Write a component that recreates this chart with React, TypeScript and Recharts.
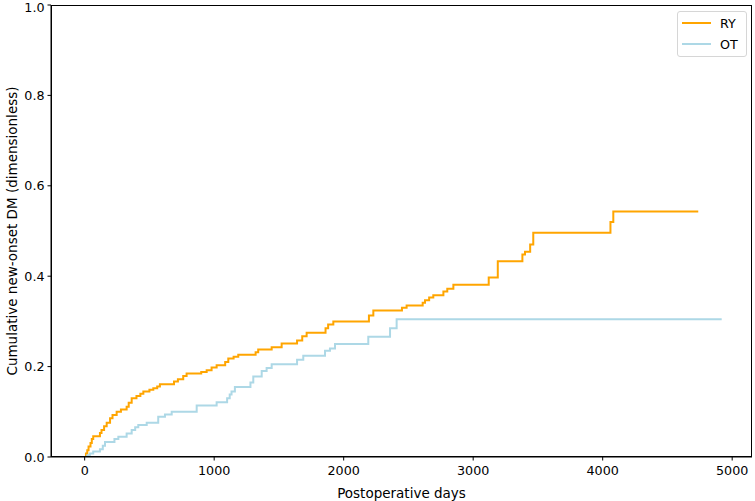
import { Label, Line, LineChart, XAxis, YAxis } from "recharts";

const ryDays = [
  0, 10, 20, 30, 45, 55, 66, 118, 130, 150, 170, 196, 215, 247, 280, 324, 340, 363, 400, 430, 453, 500, 530, 560, 581,
  690, 720, 761, 787, 900, 942, 980, 1019, 1085, 1109, 1150, 1186, 1320, 1340, 1444, 1521, 1640, 1680, 1714, 1860,
  1880, 1920, 2195, 2229, 2450, 2486, 2610, 2628, 2660, 2692, 2770, 2800, 2847, 3120, 3190, 3380, 3400, 3440, 3464,
  4060, 4082, 4738,
];
const ryValues = [
  0, 0.008, 0.015, 0.023, 0.031, 0.04, 0.046, 0.053, 0.06, 0.068, 0.076, 0.086, 0.093, 0.1, 0.105, 0.111, 0.12, 0.13,
  0.135, 0.14, 0.145, 0.149, 0.152, 0.156, 0.161, 0.167, 0.172, 0.179, 0.185, 0.188, 0.192, 0.198, 0.203, 0.21, 0.218,
  0.222, 0.226, 0.232, 0.238, 0.243, 0.251, 0.258, 0.267, 0.275, 0.285, 0.293, 0.3, 0.313, 0.324, 0.33, 0.335, 0.341,
  0.347, 0.353, 0.358, 0.366, 0.372, 0.381, 0.397, 0.433, 0.448, 0.454, 0.47, 0.496, 0.52, 0.543, 0.543,
];

const otDays = [
  0, 20, 40, 66, 118, 140, 157, 230, 260, 324, 363, 390, 414, 479, 568, 620, 672, 865, 1019, 1100, 1120, 1134, 1160,
  1280, 1302, 1367, 1405, 1444, 1640, 1688, 1856, 1894, 1933, 2190, 2358, 2409, 4919,
];
const otValues = [
  0, 0.004, 0.008, 0.012, 0.017, 0.025, 0.033, 0.04, 0.045, 0.052, 0.06, 0.066, 0.071, 0.076, 0.089, 0.094, 0.1, 0.114,
  0.121, 0.13, 0.138, 0.145, 0.155, 0.165, 0.178, 0.19, 0.197, 0.205, 0.215, 0.224, 0.235, 0.24, 0.25, 0.266, 0.285,
  0.305, 0.305,
];

const xTicks = [0, 1000, 2000, 3000, 4000, 5000];
const yTicks = [0, 0.2, 0.4, 0.6, 0.8, 1.0];

const ry = ryDays.map((day, i) => ({ day, value: ryValues[i] }));
const ot = otDays.map((day, i) => ({ day, value: otValues[i] }));

const font = "'DejaVu Sans', sans-serif";
const tickStyle = { fontSize: 12.7, fill: "#000", fontFamily: font };
const labelStyle = { fontSize: 13.5, fill: "#000", fontFamily: font };

// plot box, matches chart margins + axis sizes below
const plot = { left: 51, top: 5, right: 752, bottom: 457 };

function Legend() {
  const items = [
    { name: "RY", color: "#FFA500" },
    { name: "OT", color: "#ADD8E6" },
  ];
  return (
    <div
      style={{
        position: "absolute",
        left: 677,
        top: 11,
        width: 70,
        height: 46,
        border: "1px solid #d6d6d6",
        borderRadius: 3,
        background: "rgba(255,255,255,0.8)",
        fontFamily: font,
        fontSize: 12.7,
        boxSizing: "border-box",
      }}
    >
      {items.map((it, i) => (
        <div key={it.name} style={{ position: "absolute", left: 4, top: 3 + i * 21, height: 16, display: "flex", alignItems: "center" }}>
          <div style={{ width: 29, height: 2, background: it.color }} />
          <span style={{ marginLeft: 9 }}>{it.name}</span>
        </div>
      ))}
    </div>
  );
}

export default function App() {
  return (
    <div style={{ position: "absolute", left: 0, top: 0, width: 755, height: 501, background: "#fff", fontFamily: font }}>
      <LineChart width={755} height={501} margin={{ top: 5, right: 3, left: 0, bottom: 0 }}>
        <XAxis
          dataKey="day"
          type="number"
          domain={[-260, 5153]}
          ticks={xTicks}
          allowDataOverflow
          height={44}
          tick={tickStyle}
          tickSize={3.5}
          tickMargin={5}
          stroke="#000"
          tickLine={{ stroke: "#000" }}
        >
          <Label value="Postoperative days" position="insideBottom" offset={3} style={labelStyle} />
        </XAxis>
        <YAxis
          type="number"
          domain={[0, 1]}
          ticks={yTicks}
          allowDataOverflow
          width={51}
          tick={tickStyle}
          tickSize={3.5}
          tickMargin={3}
          stroke="#000"
          tickFormatter={(v: number) => v.toFixed(1)}
        />
        <Line data={ry} dataKey="value" name="RY" type="stepAfter" stroke="#FFA500" strokeWidth={2} dot={false} isAnimationActive={false} />
        <Line data={ot} dataKey="value" name="OT" type="stepAfter" stroke="#ADD8E6" strokeWidth={2} dot={false} isAnimationActive={false} />
      </LineChart>
      <svg width={755} height={501} style={{ position: "absolute", left: 0, top: 0, pointerEvents: "none" }}>
        <rect
          x={plot.left + 0.5}
          y={plot.top + 0.5}
          width={plot.right - plot.left - 1}
          height={plot.bottom - plot.top - 1}
          fill="none"
          stroke="#000"
          strokeWidth={1}
        />
        <text transform={`translate(12,${(plot.top + plot.bottom) / 2}) rotate(-90)`} textAnchor="middle" dominantBaseline="central" style={labelStyle}>
          Cumulative new-onset DM (dimensionless)
        </text>
      </svg>
      <Legend />
    </div>
  );
}
